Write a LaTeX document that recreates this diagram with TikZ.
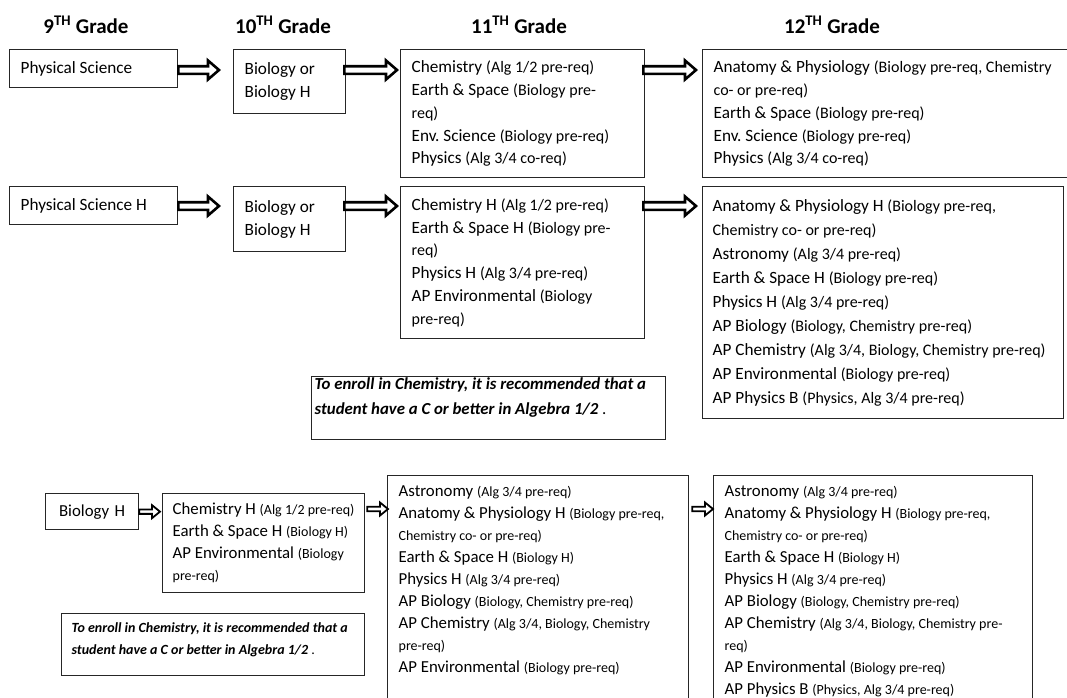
\documentclass[tikz,border=0pt]{standalone}
\usepackage{fontspec}
\setmainfont{Carlito}
\usetikzlibrary{calc}
\frenchspacing

\newcommand{\BodyFont}{\fontsize{17.2}{22.8}\selectfont}
\newcommand{\SmallBodyFont}{\fontsize{16.8}{22}\selectfont}
\newcommand{\GradeFont}{\fontsize{21}{25}\selectfont\bfseries}
\newcommand{\NoteFont}{\fontsize{14}{22}\selectfont\bfseries\itshape}
\newcommand{\Req}[1]{{\fontsize{16}{22.8}\selectfont #1}}
\newcommand{\ReqSm}[1]{{\fontsize{14}{22}\selectfont #1}}
\newcommand{\Grade}[1]{#1\textsuperscript{TH} Grade}

\begin{document}
\begin{tikzpicture}[x=1pt, y=-1pt,
  grade/.style={font=\GradeFont, inner sep=0pt},
  course/.style={draw=black!85, line width=1.3pt, anchor=north west,
    inner xsep=11pt, inner ysep=0pt, align=flush left, font=\BodyFont},
  note/.style={draw=black!85, line width=1.3pt, anchor=north west,
    inner xsep=10pt, inner ysep=9pt, font=\NoteFont},
  blockarrow/.style n args={3}{draw=black, fill=white, line join=miter,
    to path={let \p1=(\tikztostart), \p2=(\tikztotarget) in
      (\x1,\y1+#1) -- (\x2-#3,\y1+#1) -- (\x2-#3,\y1+#2) -- (\x2,\y1)
      -- (\x2-#3,\y1-#2) -- (\x2-#3,\y1-#1) -- (\x1,\y1-#1) -- cycle}},
  bigarrow/.style={blockarrow={3.8pt}{9.5pt}{11pt}, line width=2.6pt},
  smallarrow/.style={blockarrow={2.2pt}{6.5pt}{8pt}, line width=1.8pt}
]
\useasboundingbox (0,0) rectangle (1067,697);
\clip (0,0) rectangle (1067,697);

% Grade headings
\node[grade] (g9) at (86,25) {\Grade{9}};
\node[grade] (g10) at (283,25) {\Grade{10}};
\node[grade] (g11) at (519,25) {\Grade{11}};
\node[grade] (g12) at (832,25) {\Grade{12}};

% Regular track
\node[course, text width=146pt, minimum height=38pt] (ps) at (9,49) {Physical Science};
\node[course, text width=90pt, minimum height=64pt] (bioA) at (233,49) {Biology or\\Biology H};
\node[course, text width=222pt, minimum height=128pt] (elevA) at (400,49) {%
  Chemistry \Req{(Alg 1/2 pre-req)}\\
  Earth \& Space \Req{(Biology pre-}\\
  \Req{req)}\\
  Env. Science \Req{(Biology pre-req)}\\
  Physics \Req{(Alg 3/4 co-req)}};
\node[course, text width=358pt, minimum height=128pt] (twelveA) at (702,49) {%
  Anatomy \& Physiology \Req{(Biology pre-req, Chemistry}\\
  \Req{co- or pre-req)}\\
  Earth \& Space \Req{(Biology pre-req)}\\
  Env. Science \Req{(Biology pre-req)}\\
  Physics \Req{(Alg 3/4 co-req)}};

% Honors track
\node[course, text width=146pt, minimum height=38pt] (psH) at (9,186) {Physical Science H};
\node[course, text width=90pt, minimum height=65pt] (bioB) at (233,186) {Biology or\\Biology H};
\node[course, text width=222pt, minimum height=152pt] (elevB) at (400,186) {%
  Chemistry H \Req{(Alg 1/2 pre-req)}\\
  Earth \& Space H \Req{(Biology pre-}\\
  \Req{req)}\\
  Physics H \Req{(Alg 3/4 pre-req)}\\
  AP Environmental \Req{(Biology}\\
  \Req{pre-req)}};
\node[course, text width=341pt, minimum height=232pt, inner xsep=10pt, font={\fontsize{17.2}{24}\selectfont}] (twelveB) at (702,186) {%
  Anatomy \& Physiology H \Req{(Biology pre-req,}\\
  \Req{Chemistry co- or pre-req)}\\
  Astronomy \Req{(Alg 3/4 pre-req)}\\
  Earth \& Space H \Req{(Biology pre-req)}\\
  Physics H \Req{(Alg 3/4 pre-req)}\\
  AP Biology \Req{(Biology, Chemistry pre-req)}\\
  AP Chemistry \Req{(Alg 3/4, Biology, Chemistry pre-req)}\\
  AP Environmental \Req{(Biology pre-req)}\\
  AP Physics B \Req{(Physics, Alg 3/4 pre-req)}};
\node[note, inner xsep=3pt, inner ysep=1.5pt, font={\fontsize{16.8}{25}\selectfont\bfseries\itshape}] (noteA) at (311,376) {\parbox[t][60pt][t]{348pt}{%
  \mbox{To enroll in Chemistry, it is recommended that a}\\
  \mbox{student have a C or better in Algebra 1/2\textup{\mdseries\ .}}}};

% Freshman biology track
\node[course, text width=71pt, minimum height=36pt, align=center, font=\SmallBodyFont] (bioH) at (45,493) {Biology H};
\node[course, text width=182pt, minimum height=99pt, inner xsep=10pt, font=\SmallBodyFont] (chemH) at (162,493) {%
  Chemistry H \ReqSm{(Alg 1/2 pre-req)}\\
  Earth \& Space H \ReqSm{(Biology H)}\\
  AP Environmental \ReqSm{(Biology}\\
  \ReqSm{pre-req)}};
\node[note] (noteB) at (61,613) {\parbox[t][44pt][t]{283pt}{%
  \mbox{To enroll in Chemistry, it is recommended that a}\\
  \mbox{student have a C or better in Algebra 1/2\textup{\mdseries\ .}}}};
\node[course, inner ysep=10pt, font=\SmallBodyFont] (bigC) at (387,475) {\parbox[t][250pt][t]{279pt}{\raggedright
  Astronomy \ReqSm{(Alg 3/4 pre-req)}\\
  Anatomy \& Physiology H \ReqSm{(Biology pre-req,}\\
  \ReqSm{Chemistry co- or pre-req)}\\
  Earth \& Space H \ReqSm{(Biology H)}\\
  Physics H \ReqSm{(Alg 3/4 pre-req)}\\
  AP Biology \ReqSm{(Biology, Chemistry pre-req)}\\
  AP Chemistry \ReqSm{(Alg 3/4, Biology, Chemistry}\\
  \ReqSm{pre-req)}\\
  AP Environmental \ReqSm{(Biology pre-req)}}};
\node[course, inner ysep=10pt, font=\SmallBodyFont] (bigD) at (713,475) {\parbox[t][250pt][t]{297pt}{\raggedright
  Astronomy \ReqSm{(Alg 3/4 pre-req)}\\
  Anatomy \& Physiology H \ReqSm{(Biology pre-req,}\\
  \ReqSm{Chemistry co- or pre-req)}\\
  Earth \& Space H \ReqSm{(Biology H)}\\
  Physics H \ReqSm{(Alg 3/4 pre-req)}\\
  AP Biology \ReqSm{(Biology, Chemistry pre-req)}\\
  AP Chemistry \ReqSm{(Alg 3/4, Biology, Chemistry pre-}\\
  \ReqSm{req)}\\
  AP Environmental \ReqSm{(Biology pre-req)}\\
  AP Physics B \ReqSm{(Physics, Alg 3/4 pre-req)}}};

% Arrows
\draw[bigarrow] ([yshift=-21pt]ps.north east) to ([xshift=-14pt]bioA.west);
\draw[bigarrow] ([xshift=-2pt,yshift=-21pt]bioA.north east) to ([xshift=-3pt]elevA.west);
\draw[bigarrow] ([xshift=-2pt,yshift=-21pt]elevA.north east) to ([xshift=-6pt]twelveA.west);
\draw[bigarrow] ([yshift=-20pt]psH.north east) to ([xshift=-14pt]bioB.west);
\draw[bigarrow] ([xshift=-2pt,yshift=-20pt]bioB.north east) to ([xshift=-3pt]elevB.west);
\draw[bigarrow] ([xshift=-2pt,yshift=-20pt]elevB.north east) to ([xshift=-6pt]twelveB.west);
\draw[smallarrow] (bioH.east) to ([xshift=-2pt]chemH.west);
\draw[smallarrow] ([xshift=2pt,yshift=-16pt]chemH.north east) to ([xshift=1pt]bigC.west);
\draw[smallarrow] ([xshift=3pt,yshift=-34pt]bigC.north east) to (bigD.west);
\end{tikzpicture}
\end{document}
